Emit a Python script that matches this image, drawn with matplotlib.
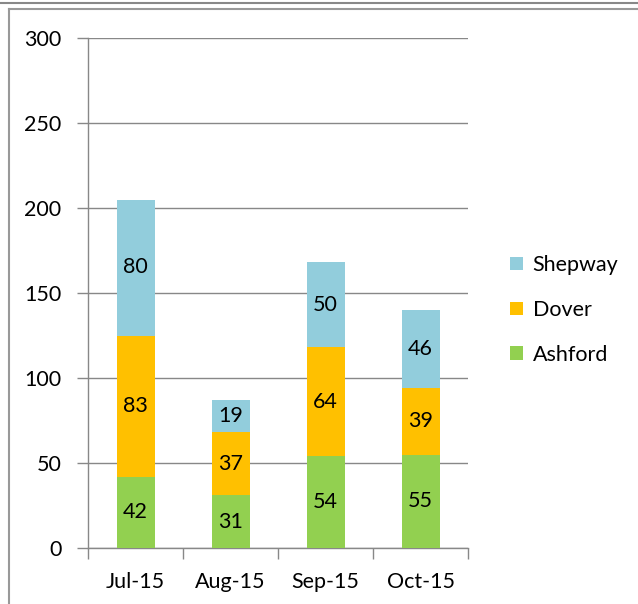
import matplotlib
matplotlib.use("Agg")
import matplotlib.pyplot as plt
from matplotlib.lines import Line2D
from matplotlib.patches import Patch
import numpy as np

plt.rcParams['font.family'] = ['Lato', 'DejaVu Sans']

categories = ["Jul-15", "Aug-15", "Sep-15", "Oct-15"]
ashford = [42, 31, 54, 55]
dover = [83, 37, 64, 39]
shepway = [80, 19, 50, 46]
yticks = [0, 50, 100, 150, 200, 250, 300]

c_ash = "#92D050"
c_dov = "#FFC000"
c_she = "#92CDDC"

FS = 15.5
W, H = 638, 604
fig = plt.figure(figsize=(W / 100, H / 100), dpi=100)
ax = fig.add_axes([88 / W, (H - 548) / H, 380 / W, 510 / H])

x = np.arange(len(categories))
bw = 0.4
b1 = ax.bar(x, ashford, bw, color=c_ash, zorder=3)
b2 = ax.bar(x, dover, bw, bottom=ashford, color=c_dov, zorder=3)
bot3 = [a + d for a, d in zip(ashford, dover)]
b3 = ax.bar(x, shepway, bw, bottom=bot3, color=c_she, zorder=3)

for bars, vals, bots in [(b1, ashford, [0] * 4), (b2, dover, ashford), (b3, shepway, bot3)]:
    for xi, v, b in zip(x, vals, bots):
        ax.text(xi, b + v / 2, str(v), ha="center", va="center", fontsize=FS, color="black", zorder=4)

ax.set_xlim(-0.5, len(categories) - 0.5)
ax.set_ylim(0, 300)
ax.set_yticks(yticks)
ax.yaxis.grid(True, color="#888888", linewidth=1, zorder=0)
ax.set_axisbelow(True)
ax.set_xticks(x)
ax.set_xticklabels(categories)
ax.set_xticks(np.arange(-0.5, len(categories), 1), minor=True)
ax.tick_params(axis="x", which="major", length=0, pad=17, labelsize=FS)
ax.tick_params(axis="x", which="minor", length=8, color="#888888", width=1, direction="out")
ax.tick_params(axis="y", length=8, color="#888888", width=1, pad=11, labelsize=FS)
for s in ["top", "right"]:
    ax.spines[s].set_visible(False)
for s in ["left", "bottom"]:
    ax.spines[s].set_color("#888888")
    ax.spines[s].set_linewidth(1)

handles = [Patch(facecolor=c_she, label="Shepway"),
           Patch(facecolor=c_dov, label="Dover"),
           Patch(facecolor=c_ash, label="Ashford")]
fig.legend(handles=handles, loc="center left", bbox_to_anchor=(510 / W, 1 - 310 / H),
           frameon=False, fontsize=FS, handlelength=0.6, handleheight=0.6,
           handletextpad=0.45, labelspacing=1.15, borderpad=0, borderaxespad=0)

# frame lines
fig.add_artist(Line2D([0, 1], [1 - 2.5 / H, 1 - 2.5 / H], transform=fig.transFigure, color="#888888", lw=1.5))
fig.add_artist(Line2D([8.5 / W, 1], [1 - 9 / H, 1 - 9 / H], transform=fig.transFigure, color="#999999", lw=1.5))
fig.add_artist(Line2D([8.5 / W, 8.5 / W], [0, 1 - 9 / H], transform=fig.transFigure, color="#999999", lw=1.5))

fig.savefig("out.png", dpi=100)
